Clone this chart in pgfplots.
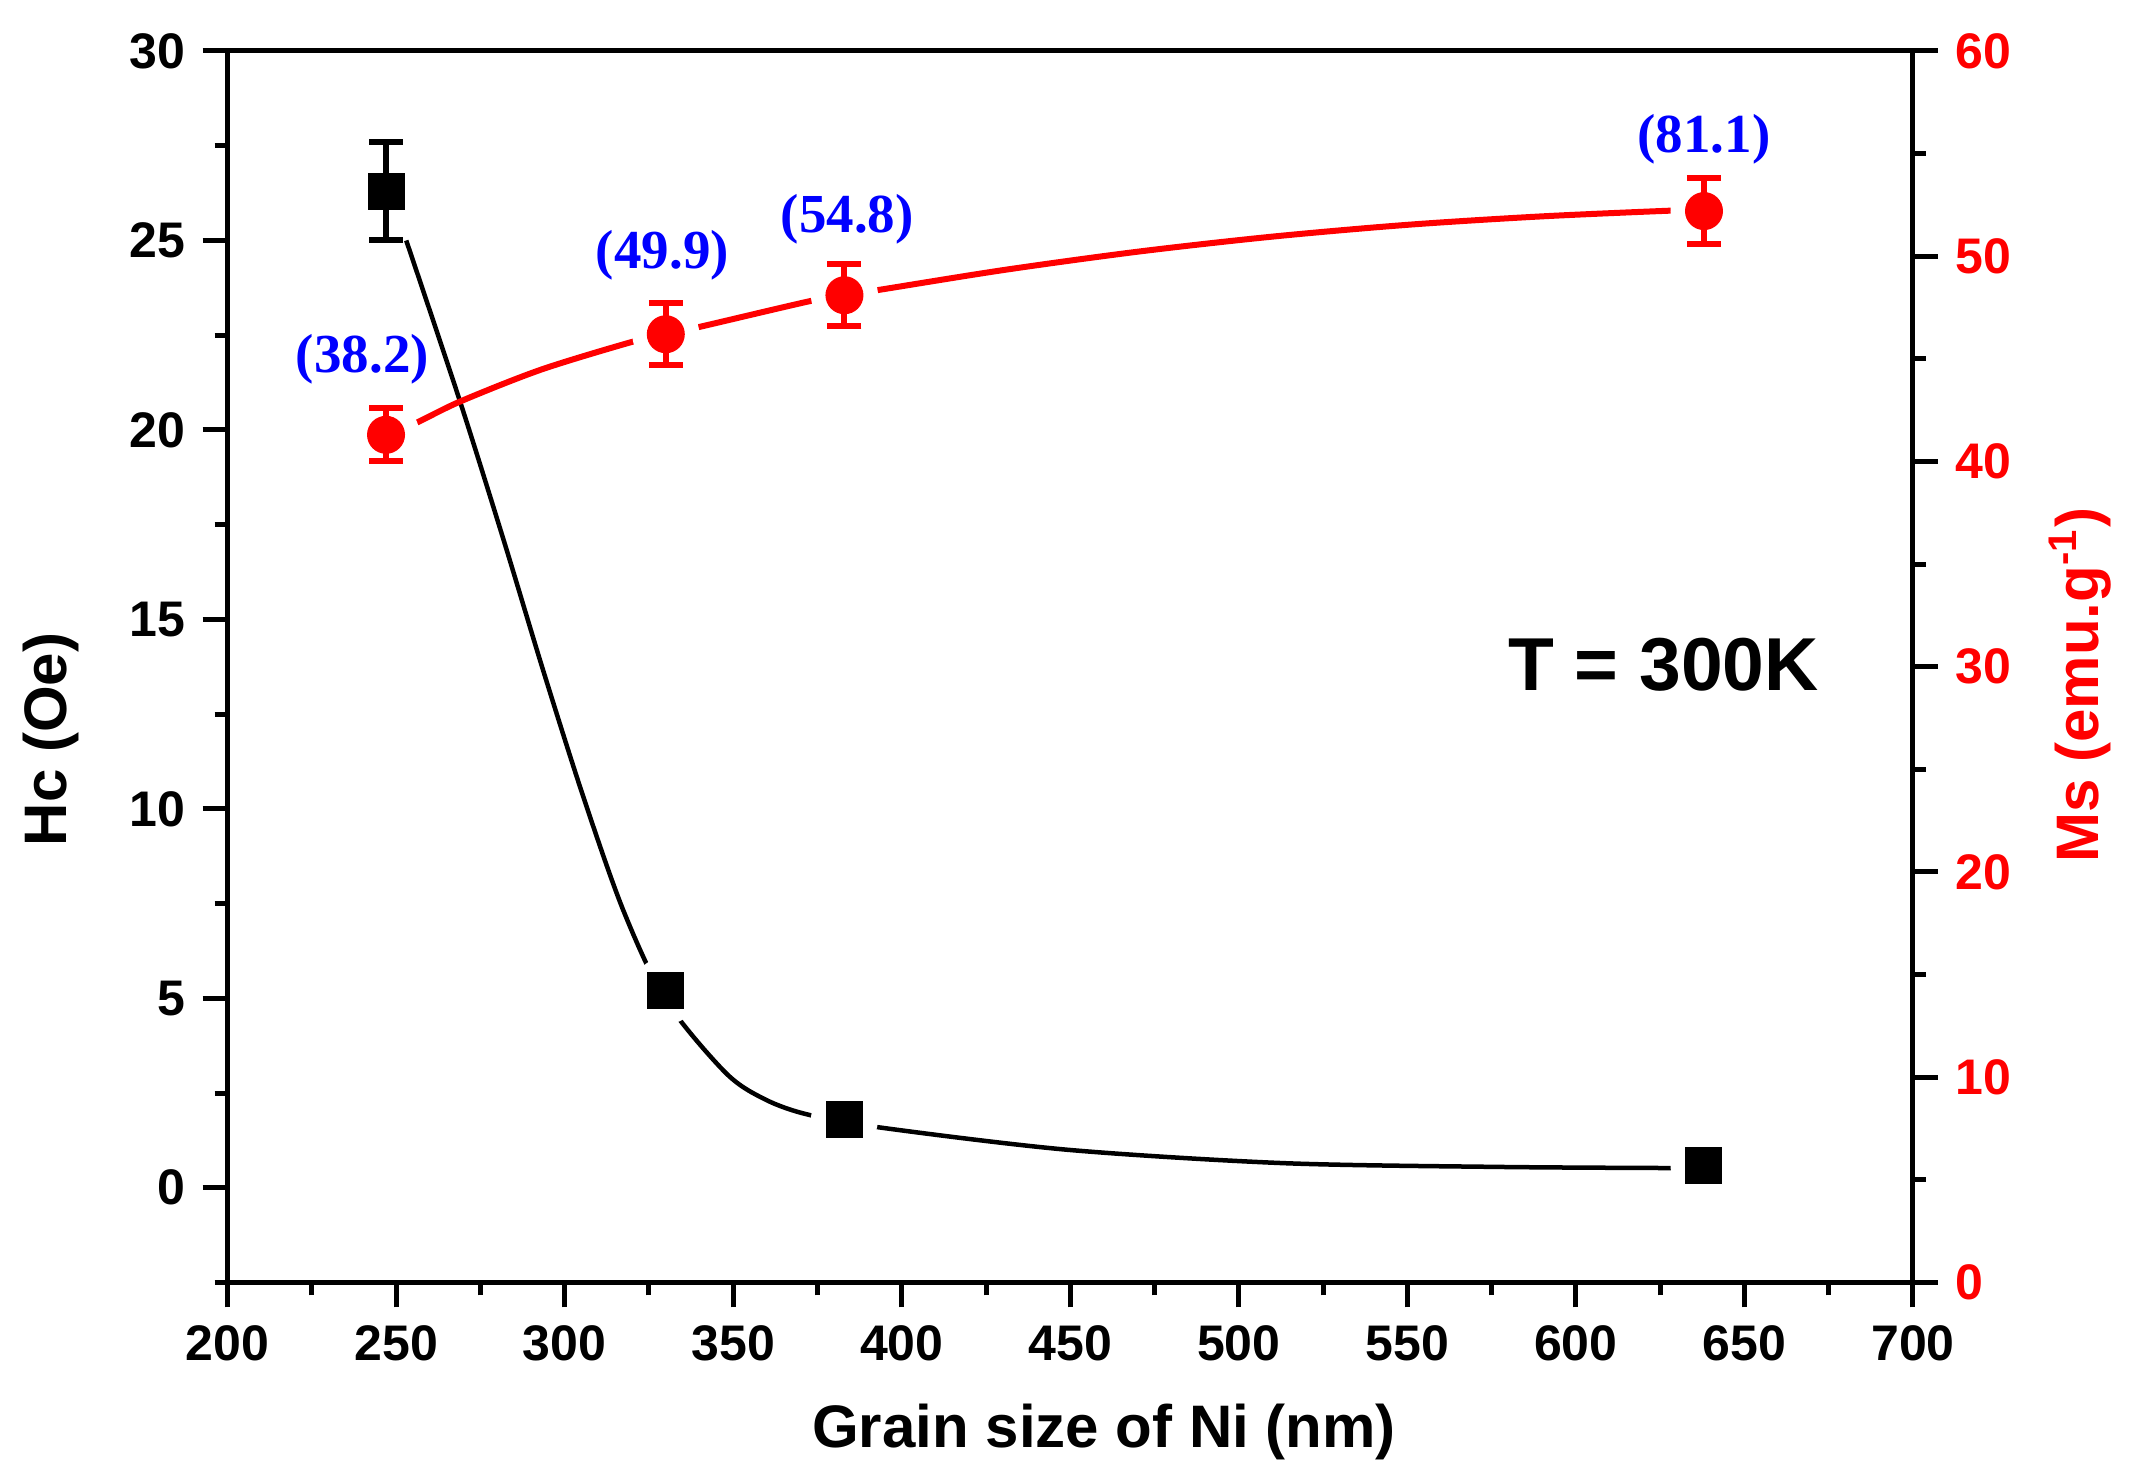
\documentclass[border=0pt]{standalone}
\usepackage{pgfplots}
\pgfplotsset{compat=1.18}
\usepackage{fontspec}
\setmainfont{Liberation Sans}
\newfontfamily\tnr{Liberation Serif}
\definecolor{ored}{RGB}{255,0,0}
\definecolor{oblue}{RGB}{0,0,255}
\begin{document}
\begin{tikzpicture}
\useasboundingbox (-45.52pt,-40.1pt) rectangle (380.28pt,256.5pt);
\pgfplotsset{
 common/.style={
  scale only axis, width=337.08pt, height=246.3pt,
  xmin=200, xmax=700,
  tick align=outside, major tick length=5pt, minor tick length=2.6pt,
  every tick/.style={line width=1pt, black},
  axis line style={line width=1pt},
  /pgf/number format/assume math mode=true,
  tick label style={font=\fontsize{10}{12}\selectfont\bfseries},
  label style={font=\fontsize{12}{14}\selectfont\bfseries},
  clip=false, clip marker paths=true,
 },
 ebar/.style={error bars/.cd, y dir=both, y explicit,
   error bar style={line width=1.2pt},
   error mark options={rotate=90, mark size=3.4pt, line width=1.2pt}},
}
\begin{axis}[common,
  ymin=-2.5, ymax=30,
  xtick={200,250,...,700}, minor xtick={225,275,...,675},
  ytick={0,5,...,30}, minor ytick={-2.5,2.5,...,27.5},
  xtick pos=left, ytick pos=left,
  xlabel={Grain size of Ni (nm)}, ylabel={Hc (Oe)},
  xlabel style={at={(axis description cs:0.52,-0.121)}, anchor=center},
  ylabel style={at={(axis description cs:-0.105,0.441)}, anchor=center},
]
\addplot[black, line width=0.9pt, smooth, tension=0.5] coordinates {
 (253,25.0) (269,20.74) (281.8,17.12) (293.7,13.63) (305.6,10.3) (317.4,7.32)
 (330,4.95) (347.8,3.03) (359.5,2.33) (372.2,1.93)
 (394.4,1.58) (449.5,1.0) (513.1,0.65) (576.7,0.55) (627.6,0.52) (638,0.52)
};
\addplot[only marks, mark=*, mark size=6.5pt, draw=white, fill=white] coordinates {
 (247,26.3) (330,5.2) (383,1.8) (638,0.6)};
\addplot[only marks, mark=square*, mark size=3.5pt, black, ebar] coordinates {
 (247,26.3) +- (0,1.3)
 (330,5.2) +- (0,0.4)
 (383,1.8) +- (0,0.4)
 (638,0.6) +- (0,0.4)
};
\node[font=\fontsize{15}{18}\selectfont\bfseries] at (axis cs:626,13.8) {T = 300K};
\end{axis}
\begin{axis}[common,
  ymin=0, ymax=60,
  axis x line=none, axis y line*=right,
  ytick={0,10,...,60}, minor ytick={5,15,...,55},
  ytick pos=right,
  yticklabel style={text=ored},
  ylabel={Ms (emu.g\textsuperscript{-1})},
  ylabel style={text=ored, at={(axis description cs:1.099,0.485)}, anchor=center},
]
\addplot[ored, line width=1.2pt, smooth] coordinates {
 (247,41.3) (255.8,41.87) (269.1,42.93) (292.9,44.47) (319.4,45.80) (330,46.2)
 (340.6,46.58) (372.4,47.80) (383,48.1) (393.6,48.37) (430.7,49.34) (470.4,50.23)
 (510.2,50.96) (549.9,51.53) (589.6,51.94) (629.4,52.23) (638,52.25)
};
\addplot[only marks, mark=*, mark size=6.5pt, draw=white, fill=white] coordinates {
 (247,41.3) (330,46.2) (383,48.1) (638,52.2)};
\addplot[only marks, mark=*, mark size=3.6pt, ored, ebar] coordinates {
 (247,41.3) +- (0,1.3)
 (330,46.2) +- (0,1.5)
 (383,48.1) +- (0,1.5)
 (638,52.2) +- (0,1.6)
};
\node[font=\tnr\fontsize{11}{13}\selectfont\bfseries, text=oblue] at (axis cs:240,45.0) {(38.2)};
\node[font=\tnr\fontsize{11}{13}\selectfont\bfseries, text=oblue] at (axis cs:329,50.06) {(49.9)};
\node[font=\tnr\fontsize{11}{13}\selectfont\bfseries, text=oblue] at (axis cs:383.8,51.8) {(54.8)};
\node[font=\tnr\fontsize{11}{13}\selectfont\bfseries, text=oblue] at (axis cs:638,55.7) {(81.1)};
\end{axis}
\end{tikzpicture}
\end{document}
